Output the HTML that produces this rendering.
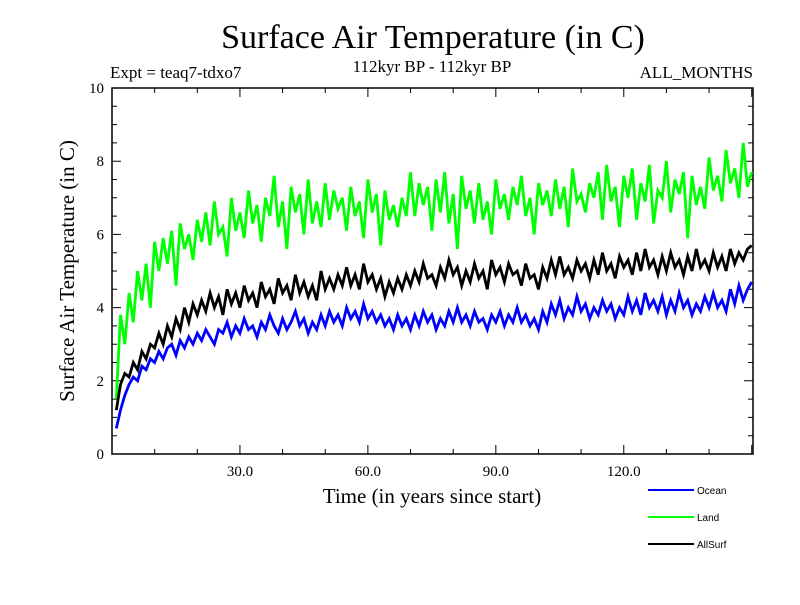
<!DOCTYPE html>
<html><head><meta charset="utf-8"><style>
body{margin:0;background:#fff}
svg text{font-family:"Liberation Serif",serif}
</style></head><body>
<svg id="chart" width="800" height="600" xmlns="http://www.w3.org/2000/svg">
<rect width="800" height="600" fill="#fff"/>
<text x="433" y="48" font-size="34" text-anchor="middle">Surface Air Temperature (in C)</text>
<text x="110" y="78" font-size="17">Expt = teaq7-tdxo7</text>
<text x="432" y="72" font-size="17" text-anchor="middle">112kyr BP - 112kyr BP</text>
<text x="753" y="78" font-size="17" text-anchor="end">ALL_MONTHS</text>
<text transform="translate(74,271) rotate(-90)" font-size="21" text-anchor="middle">Surface Air Temperature (in C)</text>
<text x="432" y="503" font-size="21" text-anchor="middle">Time (in years since start)</text>
<g id="axes"></g>
<g id="series"></g>
<g id="legend"></g>
</svg>
<script>
const years=[];for(let i=1;i<=150;i++)years.push(i);
const ocean=[0.7,1.2,1.6,1.9,2.1,2.0,2.4,2.3,2.6,2.5,
2.8,2.6,2.9,3.0,2.7,3.1,2.9,3.2,3.0,3.3,
3.1,3.4,3.2,3.0,3.4,3.3,3.6,3.2,3.5,3.3,
3.7,3.4,3.5,3.2,3.6,3.4,3.8,3.5,3.3,3.7,
3.4,3.6,3.9,3.5,3.7,3.3,3.6,3.4,3.8,3.5,
3.9,3.6,3.8,3.5,4.0,3.7,3.9,3.6,4.1,3.7,
3.9,3.6,3.8,3.5,3.7,3.4,3.8,3.5,3.7,3.4,
3.8,3.5,3.9,3.6,3.8,3.4,3.7,3.5,3.9,3.6,
4.0,3.6,3.8,3.5,3.9,3.6,3.7,3.4,3.8,3.6,
3.9,3.5,3.8,3.6,4.0,3.6,3.8,3.5,3.7,3.4,
3.9,3.6,4.1,3.8,4.2,3.7,4.0,3.8,4.3,3.9,
4.1,3.7,4.0,3.8,4.2,3.9,4.1,3.7,4.0,3.8,
4.3,3.9,4.2,3.8,4.4,4.0,4.2,3.9,4.3,3.8,
4.2,3.9,4.4,4.0,4.2,3.8,4.1,3.9,4.3,4.0,
4.4,4.0,4.2,3.9,4.5,4.1,4.6,4.2,4.5,4.7];
const land=[1.5,3.8,3.0,4.4,3.6,5.0,4.2,5.2,4.0,5.8,
5.0,5.9,5.2,6.1,4.6,6.3,5.6,6.0,5.3,6.4,
5.8,6.6,5.7,6.9,6.0,6.2,5.4,7.0,6.1,6.6,
5.9,7.2,6.3,6.8,5.8,7.0,6.5,7.6,6.2,6.9,
5.6,7.3,6.6,7.1,6.0,7.5,6.3,6.9,6.2,7.4,
6.4,7.2,6.7,7.0,6.1,7.3,6.5,6.9,5.9,7.5,
6.6,7.1,5.7,7.2,6.4,6.8,6.2,7.0,6.5,7.7,
6.5,7.4,6.8,7.3,6.1,7.5,6.6,7.7,6.3,7.1,
5.6,7.6,6.7,7.2,6.3,7.4,6.4,6.9,6.0,7.5,
6.7,7.1,6.4,7.3,6.8,7.6,6.5,7.0,6.0,7.4,
6.8,7.2,6.5,7.5,6.7,7.3,6.2,7.8,6.9,7.1,
6.6,7.4,7.0,7.7,6.4,7.9,6.9,7.3,6.2,7.6,
7.0,7.8,6.4,7.4,6.9,7.9,6.3,7.2,7.0,8.0,
6.6,7.5,7.1,7.7,5.9,7.6,6.8,7.3,6.7,8.1,
7.2,7.6,6.9,8.3,7.4,7.8,7.0,8.5,7.3,7.7];
const allSurf=[1.2,1.9,2.2,2.1,2.5,2.3,2.8,2.6,3.0,2.9,
3.3,3.0,3.5,3.2,3.7,3.4,4.0,3.6,4.1,3.8,
4.2,3.9,4.4,4.0,4.3,3.8,4.5,4.1,4.4,4.0,
4.6,4.2,4.4,4.0,4.7,4.3,4.5,4.1,4.8,4.4,
4.6,4.2,4.9,4.4,4.7,4.3,4.6,4.2,5.0,4.5,
4.8,4.5,4.9,4.6,5.1,4.6,4.9,4.5,5.2,4.7,
4.9,4.5,4.8,4.3,4.7,4.4,4.8,4.5,4.9,4.6,
5.0,4.7,5.2,4.8,4.9,4.6,5.1,4.8,5.3,4.9,
5.1,4.6,5.0,4.7,5.2,4.8,5.0,4.5,5.3,4.9,
5.1,4.7,5.2,4.9,5.0,4.6,5.2,4.8,4.9,4.5,
5.1,4.8,5.3,4.9,5.4,4.9,5.1,4.8,5.3,5.0,
5.2,4.8,5.3,4.9,5.5,5.0,5.2,4.8,5.4,5.1,
5.3,4.9,5.5,5.0,5.6,5.1,5.3,4.9,5.4,5.0,
5.5,5.1,5.3,4.9,5.4,5.0,5.6,5.1,5.3,5.0,
5.5,5.1,5.4,5.0,5.6,5.2,5.5,5.3,5.6,5.7];
const xTickLabels=["30.0","60.0","90.0","120.0"];
const xTickValues=[30,60,90,120];
const yTickValues=[0,2,4,6,8,10];
const seriesNames=["Ocean","Land","AllSurf"];
const seriesColors=["#0000ff","#00ff00","#000000"];

const X0=112,X1=753,Y0=454,Y1=88,XMAX=150.3,YMAX=10;
const sx=v=>X0+v/XMAX*(X1-X0);
const sy=v=>Y0-v/YMAX*(Y0-Y1);
const NS="http://www.w3.org/2000/svg";
function mk(t,a,p){const e=document.createElementNS(NS,t);for(const k in a)e.setAttribute(k,a[k]);p.appendChild(e);return e;}
const axes=document.getElementById('axes');
const frame=mk('rect',{x:X0,y:Y1,width:X1-X0,height:Y0-Y1,fill:'none',stroke:'#000','stroke-width':1.5},axes);


for(let v=10;v<XMAX;v+=10){const major=v%30===0;const L=major?9:5;
 const t=mk('path',{d:`M${sx(v)},${Y0}v${-L}M${sx(v)},${Y1}v${L}`,stroke:'#000','stroke-width':1},axes);
 
 }
xTickValues.forEach((v,i)=>{const t=mk('text',{x:sx(v),y:Y0+22,'font-size':15,'text-anchor':'middle'},axes);t.textContent=xTickLabels[i];
 
 });
for(let v=0.5;v<YMAX;v+=0.5){const major=Math.abs(v%2)<1e-6;const L=major?9:5;
 const t=mk('path',{d:`M${X0},${sy(v)}h${L}M${X1},${sy(v)}h${-L}`,stroke:'#000','stroke-width':1},axes);
 
 }
yTickValues.forEach(v=>{const t=mk('text',{x:X0-8,y:sy(v)+5,'font-size':15,'text-anchor':'end'},axes);t.textContent=String(v);
 
 });
const sg=document.getElementById('series');
[land,allSurf,ocean].forEach((arr)=>{const idx=arr===ocean?0:arr===land?1:2;
 const d=arr.map((v,i)=>(i?'L':'M')+sx(years[i]).toFixed(1)+','+sy(v).toFixed(1)).join('');
 const p=mk('path',{d,fill:'none',stroke:seriesColors[idx],'stroke-width':2.8,'stroke-linejoin':'miter'},sg);
 
 });
const lg=document.getElementById('legend');
seriesNames.forEach((n,i)=>{const y=490+i*27;
 const l=mk('line',{x1:648,x2:694,y1:y,y2:y,stroke:seriesColors[i],'stroke-width':2},lg);
 
 
 const t=mk('text',{x:697,y:y+4,'font-size':10,style:'font-family:"Liberation Sans",sans-serif'},lg);t.textContent=n;
 
 });
</script>
</body></html>
